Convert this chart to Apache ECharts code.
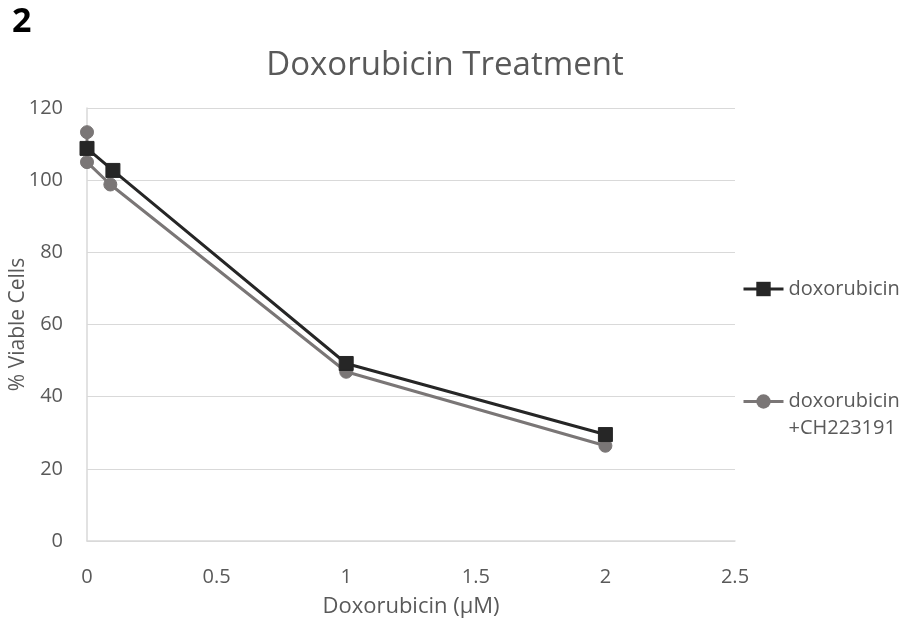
<!DOCTYPE html>
<html>
<head>
<meta charset="utf-8">
<script src="https://cdn.jsdelivr.net/npm/echarts@6/dist/echarts.min.js"></script>
<style>
  html, body { margin: 0; padding: 0; background: #fff; }
  #chart { width: 901px; height: 620px; }
</style>
</head>
<body>
<div id="chart"></div>
<script>
// values
const seriesNames = ['doxorubicin', 'doxorubicin +CH223191']
const doxoX = [0, 0.1, 1, 2]
const doxoY = [108.8, 102.7, 49.2, 29.5]
const comboX = [0, 0, 0.09, 1, 2]
const comboY = [113.3, 105, 98.8, 46.9, 26.4]
const xTicks = [0, 0.5, 1, 1.5, 2, 2.5]
const yTicks = [0, 20, 40, 60, 80, 100, 120]

const font = 'Open Sans'
const textColor = '#595959'

function pairs (xs, ys) {
  let out = []
  for (let i = 0; i < xs.length; i++) {
    out.push([xs[i], ys[i]])
  }
  return out
}

let chart = echarts.init(document.getElementById('chart'))
let option = {
  animation: false,
  backgroundColor: '#fff',
  title: {
    text: 'Doxorubicin Treatment',
    left: 440,
    textAlign: 'center',
    top: 44,
    textStyle: { fontFamily: font, fontSize: 33, fontWeight: 'normal', color: textColor }
  },
  graphic: [
    {
      type: 'text',
      left: 12,
      top: 5,
      style: { text: '2', font: 'bold 34px "Open Sans"', fill: '#000' }
    }
  ],
  legend: [
    {
      data: [seriesNames[0]],
      orient: 'vertical',
      left: 742,
      top: 279,
      padding: 0,
      itemWidth: 40,
      itemHeight: 18,
      itemGap: 0,
      lineStyle: { width: 3 },
      textStyle: { fontFamily: font, fontSize: 20, color: textColor }
    },
    {
      data: [seriesNames[1]],
      orient: 'vertical',
      left: 742,
      top: 361,
      padding: 0,
      itemWidth: 40,
      itemHeight: 18,
      itemGap: 0,
      lineStyle: { width: 3 },
      // blank first line keeps the icon level with the first text line
      formatter: function (name) { return ' \n' + name.replace(' ', '\n') },
      textStyle: { fontFamily: font, fontSize: 20, color: textColor, lineHeight: 27 }
    }
  ],
  grid: { left: 87, right: 166, top: 108, bottom: 79, outerBoundsMode: 'none', containLabel: false },
  xAxis: {
    type: 'value',
    min: xTicks[0],
    max: xTicks[xTicks.length - 1],
    interval: 0.5,
    name: 'Doxorubicin (µM)',
    nameLocation: 'middle',
    nameGap: 55,
    nameMoveOverlap: false,
    nameTextStyle: { fontFamily: font, fontSize: 22, color: textColor },
    axisLine: { show: true, lineStyle: { color: '#d9d9d9', width: 1.5 } },
    axisTick: { show: false },
    splitLine: { show: false },
    axisLabel: { margin: 26, fontFamily: font, fontSize: 20, color: textColor }
  },
  yAxis: {
    type: 'value',
    min: yTicks[0],
    max: yTicks[yTicks.length - 1],
    interval: 20,
    name: '% Viable Cells',
    nameLocation: 'middle',
    nameGap: 58,
    nameMoveOverlap: false,
    nameTextStyle: { fontFamily: font, fontSize: 21, color: textColor },
    axisLine: { show: true, lineStyle: { color: '#d9d9d9', width: 1.5 } },
    axisTick: { show: false },
    splitLine: { show: true, lineStyle: { color: '#d9d9d9', width: 1 } },
    axisLabel: { margin: 24, fontFamily: font, fontSize: 20, color: textColor }
  },
  series: [
    {
      name: seriesNames[0],
      type: 'line',
      data: pairs(doxoX, doxoY),
      symbol: 'rect',
      symbolSize: 14,
      lineStyle: { color: '#262626', width: 3 },
      itemStyle: { color: '#262626', borderColor: '#262626' },
      z: 3
    },
    {
      name: seriesNames[1],
      type: 'line',
      data: pairs(comboX, comboY),
      symbol: 'circle',
      symbolSize: 13,
      lineStyle: { color: '#7a7676', width: 3 },
      itemStyle: { color: '#7a7676', borderColor: '#7a7676' },
      z: 2
    }
  ]
}
chart.setOption(option)
</script>
</body>
</html>
